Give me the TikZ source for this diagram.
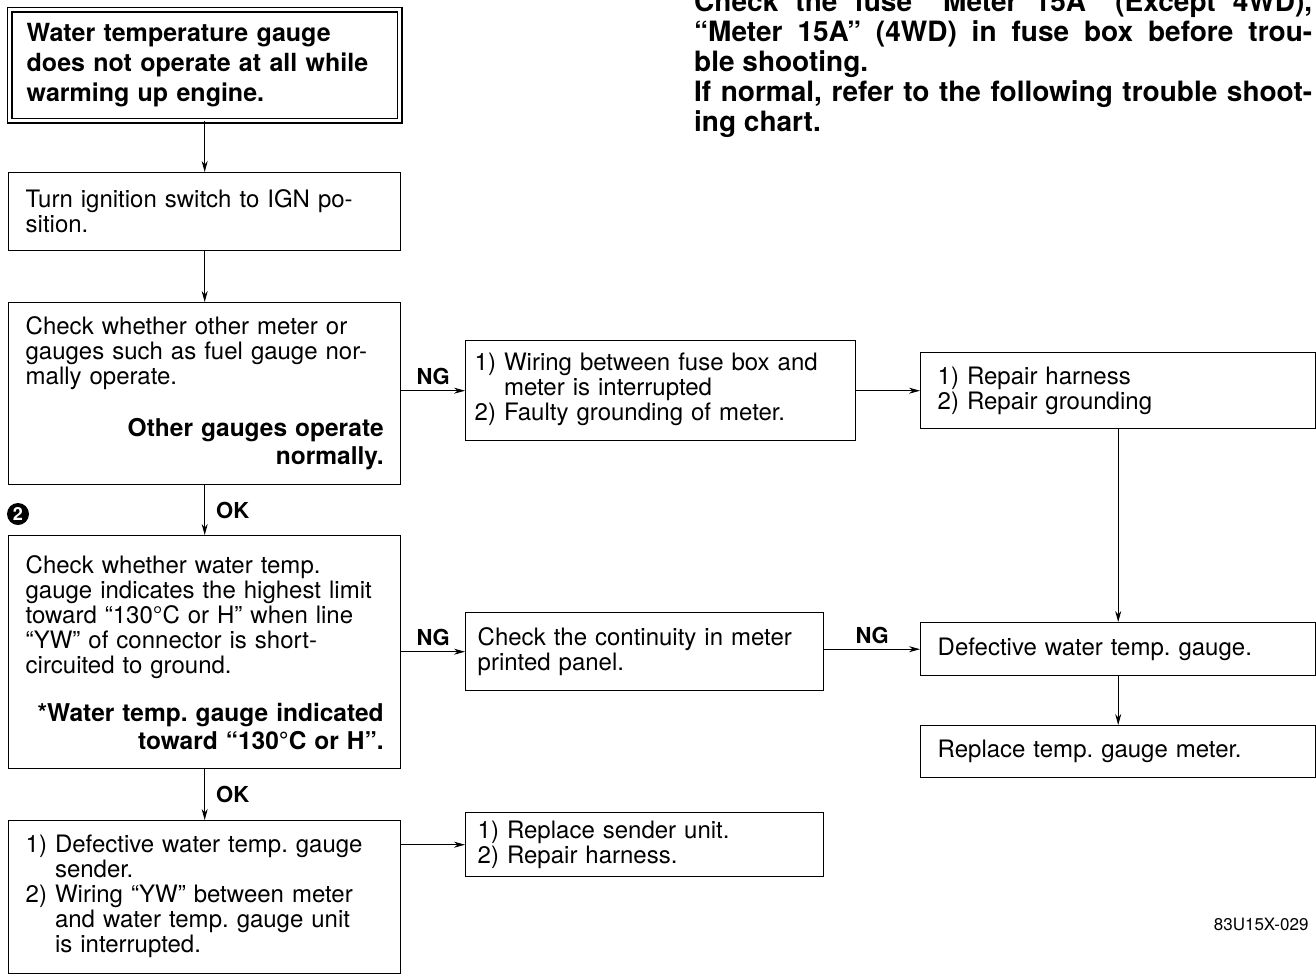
\documentclass[tikz,border=0pt]{standalone}
\usepackage{fontspec}
\setmainfont{TeX Gyre Heros}
\usetikzlibrary{arrows.meta}
\frenchspacing

\newcommand\txtfont{\fontsize{24}{25}\selectfont}
\newcommand\boldfont{\fontsize{24.5}{28}\selectfont\bfseries}
\newcommand\notefont{\fontsize{28}{30}\selectfont\bfseries}

\tikzset{
  box/.style={draw, line width=1.4pt, anchor=north west, inner xsep=17pt,
    inner ysep=0pt, align=left, font=\txtfont},
  flow/.style={line width=0.9pt, -{Stealth[length=11pt,width=6pt]}},
  lbl/.style={font=\fontsize{22}{24}\selectfont\bfseries, inner sep=5pt}
}

\begin{document}
\begin{tikzpicture}[x=1pt,y=-1pt]
\useasboundingbox (0,0) rectangle (1316,975);

% left column
\node[box, double, double distance=3pt, font=\fontsize{25}{30}\selectfont\bfseries,
  minimum width=388pt, minimum height=111pt, text width=356pt] (start) at (9,9)
  {Water temperature gauge\\does not operate at all while\\warming up engine.};
\node[box, minimum width=392pt, minimum height=78pt, text width=358pt] (ign) at (8,172)
  {Turn ignition switch to IGN po-\\sition.};
\node[box, minimum width=392pt, minimum height=182pt, text width=358pt] (meters) at (8,302)
  {Check whether other meter or\\gauges such as fuel gauge nor-\\mally operate.\par
   \vspace{24pt}{\raggedleft\boldfont Other gauges operate\\normally.\par}};
\node[box, minimum width=392pt, minimum height=233pt, text width=358pt] (short) at (8,535)
  {Check whether water temp.\\gauge indicates the highest limit\\toward ``130°C or H'' when line\\
   ``YW'' of connector is short-\\circuited to ground.\par
   \vspace{20pt}{\raggedleft\boldfont *Water temp. gauge indicated\\toward ``130°C or H''.\par}};
\node[box, minimum width=392pt, minimum height=153pt, text width=358pt] (sender) at (8,820)
  {\begin{tabular}{@{}l@{\ }l@{}}
   1)&Defective water temp. gauge\\ &sender.\\
   2)&Wiring ``YW'' between meter\\ &and water temp. gauge unit\\ &is interrupted.
   \end{tabular}};
\node[circle, fill=black, text=white, inner sep=0pt, minimum size=22pt,
  font=\fontsize{18}{18}\selectfont\bfseries] (two) at (18,514) {2};

% middle column
\node[box, inner xsep=9pt, minimum width=390pt, minimum height=100pt, text width=372pt] (wiring) at (465,340)
  {\begin{tabular}{@{}l@{\ }l@{}}
   1)&Wiring between fuse box and\\ &meter is interrupted\\
   2)&Faulty grounding of meter.
   \end{tabular}};
\node[box, inner xsep=12pt, minimum width=358pt, minimum height=78pt, text width=334pt] (panel) at (465,612)
  {Check the continuity in meter\\printed panel.};
\node[box, inner xsep=12pt, minimum width=358pt, minimum height=64pt, text width=334pt] (fix) at (465,812)
  {1) Replace sender unit.\\2) Repair harness.};

% right column
\node[box, minimum width=395pt, minimum height=76pt, text width=361pt] (repair) at (920,352)
  {1) Repair harness\\2) Repair grounding};
\node[box, minimum width=395pt, minimum height=53pt, text width=361pt] (gauge) at (920,622)
  {Defective water temp. gauge.};
\node[box, minimum width=395pt, minimum height=52pt, text width=361pt] (meter) at (920,725)
  {Replace temp. gauge meter.};

% note and code
\node[anchor=north west, text width=618pt, align=justify, inner sep=0pt, font=\notefont] (note) at (694,-9)
  {Check the fuse ``Meter 15A'' (Except 4WD),\linebreak
   ``Meter 15A'' (4WD) in fuse box before trou-\linebreak
   ble shooting.\\
   If normal, refer to the following trouble shoot-\linebreak
   ing chart.};
\node[anchor=east, font=\fontsize{17}{20}\selectfont] (code) at (1312,924) {83U15X-029};

% connectors
\draw[flow] (start.south) -- (start.south |- ign.north);
\draw[flow] (ign.south) -- (ign.south |- meters.north);
\draw[flow] (meters.south) -- node[lbl, right, xshift=6pt] (ok1) {OK} (meters.south |- short.north);
\draw[flow] (short.south) -- node[lbl, right, xshift=6pt] (ok2) {OK} (short.south |- sender.north);
\draw[flow] (meters.east |- wiring.west) -- node[lbl, above] (ng1) {NG} (wiring.west);
\draw[flow] (wiring.east |- repair.west) -- (repair.west);
\draw[flow] (repair.south) -- (repair.south |- gauge.north);
\draw[flow] (short.east |- panel.west) -- node[lbl, above] (ng2) {NG} (panel.west);
\draw[flow] (panel.east |- gauge.west) -- node[lbl, above] (ng3) {NG} (gauge.west);
\draw[flow] (gauge.south) -- (gauge.south |- meter.north);
\draw[flow] (sender.east |- fix.west) -- (fix.west);
\end{tikzpicture}
\end{document}
